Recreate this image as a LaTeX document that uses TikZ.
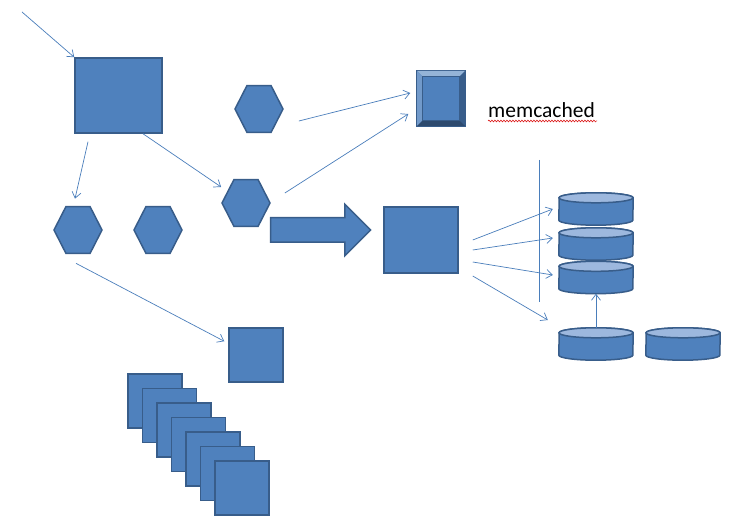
\documentclass[tikz,border=0pt]{standalone}
\usepackage{fontspec}
\setmainfont{Carlito}
\usetikzlibrary{shapes.geometric,shapes.arrows,arrows.meta,decorations.pathmorphing}
\definecolor{boxblue}{HTML}{4F81BD}
\definecolor{boxline}{HTML}{385D8A}
\definecolor{linkblue}{HTML}{4A7EBB}
\definecolor{toplight}{HTML}{9DB8DE}
\tikzset{box/.style={draw=boxline,fill=boxblue,line width=1.5pt,inner sep=0pt},
  hexa/.style={box,regular polygon,regular polygon sides=6,minimum size=48pt,yscale=1.13},
  dbcyl/.style={minimum width=74pt,minimum height=32pt,inner sep=0pt},
  cylside/.style={draw=boxline,fill=boxblue,line width=1.5pt},
  cyltop/.style={draw=boxline,fill=toplight,line width=1.5pt},
  link/.style={draw=linkblue,line width=0.7pt,-{Straight Barb[length=6pt,width=9pt]}}
}
\begin{document}
\begin{tikzpicture}[x=1pt,y=-1pt]
  \fill[white] (0,0) rectangle (741,529);
  \useasboundingbox (0,0) rectangle (741,529);

  % Squares
  \node[box,minimum width=87pt,minimum height=75pt] (bigsq) at (118.5,95.5) {};
  \node[box,minimum size=54pt] (sqB) at (256,355) {};
  \node[box,minimum width=74pt,minimum height=66pt] (sqR) at (421,240) {};
  \foreach \i in {0,...,6}
    \node[box,minimum size=54pt] (st\i) at (155+14.5*\i,401+14.5*\i) {};

  % Hexagons
  \node[hexa] (hexA) at (78,230) {};
  \node[hexa] (hexD) at (158,230) {};
  \node[hexa] (hexB) at (259,109) {};
  \node[hexa] (hexC) at (246,203) {};

  % Block arrow
  \node[single arrow,draw=boxline,fill=boxblue,line width=1.5pt,inner xsep=0pt,inner ysep=11.5pt,
    minimum height=100pt,single arrow head extend=13.5pt,single arrow head indent=0pt] (bigarrow) at (314.5,230) {};

  % memcached box
  \node[box,minimum width=48pt,minimum height=55pt] (mc) at (441,98.5) {};
  \fill[boxblue!60!white] ([shift={(0.75,0.75)}]mc.north west) -- ([shift={(-0.75,0.75)}]mc.north east)
    -- ([shift={(-6,6)}]mc.north east) -- ([shift={(6,6)}]mc.north west) -- cycle;
  \fill[boxblue!80!white] ([shift={(0.75,0.75)}]mc.north west) -- ([shift={(6,6)}]mc.north west)
    -- ([shift={(6,-6)}]mc.south west) -- ([shift={(0.75,-0.75)}]mc.south west) -- cycle;
  \fill[boxline] ([shift={(-0.75,0.75)}]mc.north east) -- ([shift={(-6,6)}]mc.north east)
    -- ([shift={(-6,-6)}]mc.south east) -- ([shift={(-0.75,-0.75)}]mc.south east) -- cycle;
  \fill[boxline!80!black] ([shift={(0.75,-0.75)}]mc.south west) -- ([shift={(6,-6)}]mc.south west)
    -- ([shift={(-6,-6)}]mc.south east) -- ([shift={(-0.75,-0.75)}]mc.south east) -- cycle;
  \draw[boxline,line width=1pt,fill=boxblue] ([shift={(6,6)}]mc.north west) rectangle ([shift={(-6,-6)}]mc.south east);
  \node[anchor=base west,inner sep=0pt,font=\fontsize{21.5}{24}\selectfont] (mctext) at (488,118) {memcached};
  \draw[red!85!black,line width=0.5pt,decorate,decoration={snake,amplitude=0.9pt,segment length=3pt}]
    (488,121) -- (597,121);

  % Databases
  \foreach \n/\x/\y in {c1/596/209,c2/596/244,c3/596/277.5,c4/596/344,c5/683/344}{
    \node[dbcyl] (\n) at (\x,\y) {};
    \draw[cylside] ([yshift=5pt]\n.south west) arc[start angle=180,end angle=360,x radius=37pt,y radius=5pt]
      -- ([yshift=-5pt]\n.north east) arc[start angle=0,end angle=180,x radius=37pt,y radius=5pt] -- cycle;
    \draw[cyltop] ([yshift=-5pt]\n.north) ellipse[x radius=37pt,y radius=5pt];
  }
  \draw[linkblue,line width=0.7pt] (539,160) -- (539,302);

  % Connectors
  \coordinate (entry) at (22,12);
  \draw[link] (entry) -- (bigsq.north west);
  \draw[link] ([xshift=-30.5pt,yshift=-8pt]bigsq.south) -- ([xshift=-3pt,yshift=7pt]hexA.north);
  \draw[link] ([xshift=24.5pt]bigsq.south) -- ([yshift=16pt]hexC.west);
  \draw[link] ([xshift=-2pt,yshift=-9pt]hexA.south) -- ([xshift=-4pt,yshift=-14pt]sqB.north west);
  \draw[link] ([xshift=15pt,yshift=-12pt]hexB.east) -- ([xshift=-6pt,yshift=5.5pt]mc.west);
  \draw[link] ([xshift=14pt,yshift=10pt]hexC.east) -- ([xshift=-8pt,yshift=-15.5pt]mc.west);
  \draw[link] ([xshift=14pt]sqR.east) -- ([xshift=-6pt]c1.west);
  \draw[link] ([xshift=14pt,yshift=-10pt]sqR.east) -- ([xshift=-6pt,yshift=6pt]c2.west);
  \draw[link] ([xshift=14pt,yshift=-22pt]sqR.east) -- ([xshift=-6pt,yshift=2.5pt]c3.west);
  \draw[link] ([xshift=14pt,yshift=-36pt]sqR.east) -- ([xshift=-11pt,yshift=24pt]c4.west);
  \draw[link] (c4.north) -- (c3.south);

\end{tikzpicture}
\end{document}
